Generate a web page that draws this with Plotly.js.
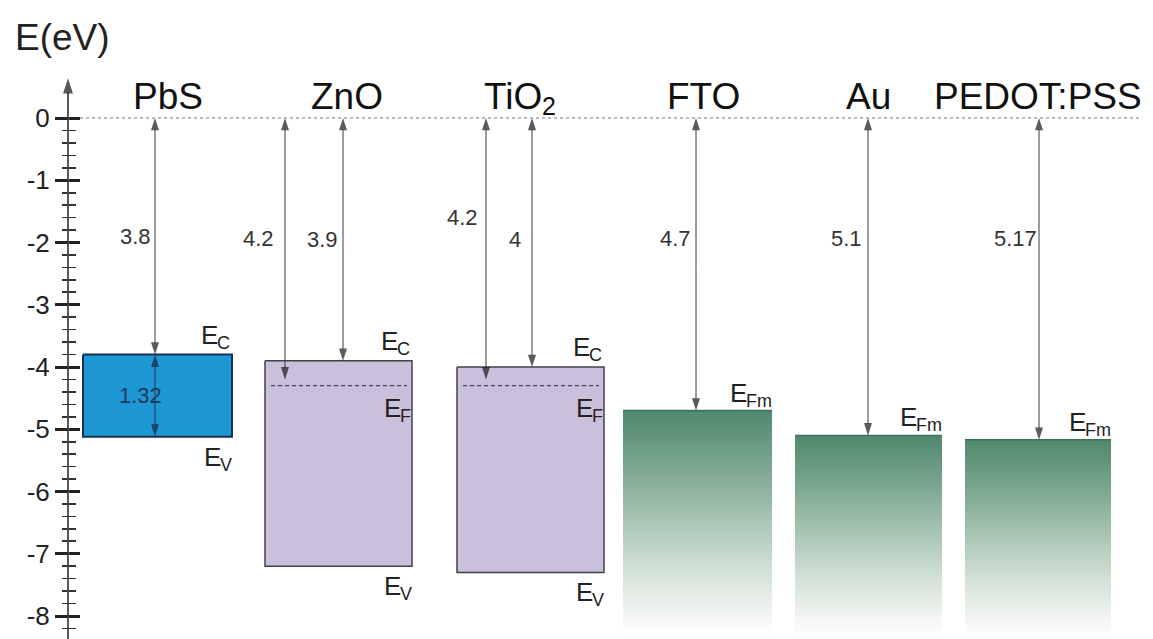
<!DOCTYPE html>
<html>
<head>
<meta charset="utf-8">
<script src="https://cdn.plot.ly/plotly-3.0.1.min.js"></script>
<style>
  html, body { margin: 0; padding: 0; background: #fff; }
  #chart { width: 1153px; height: 639px; }
</style>
</head>
<body>
<div id="chart"></div>
<script>
// ---- Energy levels (eV, vacuum level = 0) ----
// Semiconductors: name split into main text and subscript
const semiNames = ['PbS', 'ZnO', 'TiO'];
const semiNameSub = ['', '', '2'];
const conductionBand = [-3.8, -3.9, -4.0];
const valenceBand = [-5.12, -7.2, -7.3];
const fermiLevel = [null, -4.3, -4.3];
const fermiDepth = [null, 4.2, 4.2];

// Electrodes / hole conductor: Fermi level given by the work function
const metalNames = ['FTO', 'Au', 'PEDOT:PSS'];
const workFunction = [4.7, 5.1, 5.17];

// Energy axis ticks
const yTickVals = [0, -1, -2, -3, -4, -5, -6, -7, -8];
const yTickText = ['0', '-1', '-2', '-3', '-4', '-5', '-6', '-7', '-8'];

// ---- Drawing layout (horizontal positions in px of the 1153 px canvas) ----
const W = 1153, H = 639;
const PX_PER_EV = 62.25, ZERO_PX = 118;
const yTop = ZERO_PX / PX_PER_EV;
const yBottom = -(H - ZERO_PX) / PX_PER_EV;
const axisX = 68;

const semiBox = [[83, 232], [265, 412], [457, 604]];
const semiArrowX = [155, 343, 532];
const fermiArrowX = [null, 285, 486];
const semiLabelDx = [-20, -21, -17];
const fermiLabelDx = [null, -27, -24];
const fermiLabelY = [null, -1.93, -1.6];
const semiFill = ['#1d98d5', '#cbc0dc', '#cbc0dc'];
const semiLine = ['#1c2f4d', '#44404e', '#44404e'];
const semiLineW = [2, 1.5, 1.5];

const metalBox = [[623, 772], [795, 942], [965, 1111]];
const metalArrowX = [696, 868, 1039];
const metalLabelDx = [-21, -22, -24];

const headerX = [168, 347, 520, 703, 868, 1038];

const FAMILY = 'Liberation Sans, Arial, sans-serif';
const numFont = { family: FAMILY, size: 22, color: '#333' };
const levelFont = { family: FAMILY, size: 26, color: '#222' };
const levelSubFont = { family: FAMILY, size: 18, color: '#222' };
const headFont = { family: FAMILY, size: 37, color: '#111' };
const headSubFont = { family: FAMILY, size: 25, color: '#111' };

const traces = [];
const shapes = [];
const annotations = [];

// One half of an arrow: a segment from `yFrom` to `yTip` with an arrowhead at the tip
function halfArrow(x, yFrom, yTip, color, headColor, width, head) {
  traces.push({
    type: 'scatter', mode: 'lines+markers', hoverinfo: 'skip', showlegend: false,
    x: [x, x], y: [yFrom, yTip],
    line: { color: color, width: width },
    marker: { symbol: 'arrow', size: [0, head], angleref: 'previous', color: headColor, line: { width: 0 } }
  });
}
// Double-headed vertical arrow between two energies
function arrow(x, yA, yB, color, headColor) {
  const c = color || '#3a3a3a', hc = headColor || '#151515';
  const ym = (yA + yB) / 2;
  halfArrow(x, ym, yA, c, hc, 1, 13);
  halfArrow(x, ym, yB, c, hc, 1, 13);
}
function label(text, x, y, font, opts) {
  annotations.push(Object.assign({
    x: x, y: y, xref: 'x', yref: 'y', text: text, showarrow: false,
    xanchor: 'center', yanchor: 'middle', font: font
  }, opts || {}));
}
// Energy-level symbol "E" with a subscript, placed by its left edge
function levelLabel(sub, xLeft, y, yshift) {
  label('E', xLeft, y, levelFont, { xanchor: 'left', yshift: yshift });
  label(sub, xLeft + 16, y, levelSubFont, { xanchor: 'left', yshift: yshift - 8 });
}

// Semiconductor band boxes
semiNames.forEach((name, i) => {
  const [x0, x1] = semiBox[i];
  const ec = conductionBand[i], ev = valenceBand[i];
  traces.push({
    type: 'scatter', mode: 'lines', hoverinfo: 'skip', showlegend: false,
    x: [x0, x1, x1, x0, x0], y: [ec, ec, ev, ev, ec],
    fill: 'toself', fillcolor: semiFill[i],
    line: { color: semiLine[i], width: semiLineW[i] }
  });
  if (fermiLevel[i] !== null) {
    shapes.push({
      type: 'line', xref: 'x', yref: 'y', x0: x0 + 6, x1: x1 - 5,
      y0: fermiLevel[i], y1: fermiLevel[i],
      line: { color: '#4a4458', width: 1.2, dash: '4px,3px' }
    });
  }
});

semiNames.forEach((name, i) => {
  const x1 = semiBox[i][1];
  const ec = conductionBand[i], ev = valenceBand[i];
  // electron affinity arrow
  arrow(semiArrowX[i], 0, ec);
  label(String(Math.abs(ec)), semiArrowX[i] + semiLabelDx[i], i === 0 ? -1.9 : -1.95, numFont);
  levelLabel('C', x1 - 33, ec, 20);
  levelLabel('V', x1 - 30, ev, -20);
  if (fermiLevel[i] !== null) {
    arrow(fermiArrowX[i], 0, -fermiDepth[i]);
    label(String(fermiDepth[i]), fermiArrowX[i] + fermiLabelDx[i], fermiLabelY[i], numFont);
    levelLabel('F', x1 - 30, fermiLevel[i], -22);
  }
});

// PbS band gap
arrow(semiArrowX[0], conductionBand[0], valenceBand[0], '#1c3350', '#14243c');
label((conductionBand[0] - valenceBand[0]).toFixed(2), semiArrowX[0] - 15,
      (conductionBand[0] + valenceBand[0]) / 2, Object.assign({}, numFont, { color: '#1c3a5a' }));

// Metal contacts: shaded blocks fading downward
metalNames.forEach((name, i) => {
  const [x0, x1] = metalBox[i];
  const ef = -workFunction[i];
  traces.push({
    type: 'scatter', mode: 'lines', hoverinfo: 'skip', showlegend: false,
    x: [x0, x1, x1, x0, x0], y: [ef, ef, yBottom, yBottom, ef],
    fill: 'toself', line: { width: 0, color: 'rgba(0,0,0,0)' },
    fillgradient: {
      type: 'vertical', start: yBottom, stop: ef,
      colorscale: [[0, '#ffffff'], [0.1, '#f3f6f3'], [0.3, '#d2e1d6'],
                   [0.55, '#a3c1af'], [0.8, '#72a089'], [1, '#4f896d']]
    }
  });
  traces.push({
    type: 'scatter', mode: 'lines', hoverinfo: 'skip', showlegend: false,
    x: [x0, x1], y: [ef, ef], line: { color: '#3f7359', width: 1.5 }
  });
});

metalNames.forEach((name, i) => {
  const x1 = metalBox[i][1];
  const ef = -workFunction[i];
  arrow(metalArrowX[i], 0, ef);
  label(String(workFunction[i]), metalArrowX[i] + metalLabelDx[i], -1.93, numFont);
  label('E', x1 - 44, ef, levelFont, { xanchor: 'left', yshift: 18 });
  label('Fm', x1 - 28, ef, levelSubFont, { xanchor: 'left', yshift: 10 });
});

// Vacuum level
shapes.push({
  type: 'line', xref: 'x', yref: 'y', x0: 80, x1: 1140, y0: 0, y1: 0,
  line: { color: '#777', width: 1.2, dash: '3px,3px' }
});

// Material names
semiNames.forEach((name, i) => {
  if (semiNameSub[i]) {
    // main text centred a little left so that text plus subscript stays centred
    label(name, headerX[i] - 7, 0, headFont, { yshift: 22 });
    label(semiNameSub[i], headerX[i] + 29, 0, headSubFont, { yshift: 12 });
  } else {
    label(name, headerX[i], 0, headFont, { yshift: 22 });
  }
});
metalNames.forEach((name, i) => {
  label(name, headerX[semiNames.length + i], 0, headFont, { yshift: 22 });
});

// Energy axis line with arrow tip
halfArrow(axisX, yBottom, 0.64, '#222', '#111', 1.5, 16);
annotations.push({
  x: 62 / W, y: 1 - 38 / H, xref: 'paper', yref: 'paper', text: 'E(eV)', showarrow: false,
  xanchor: 'center', yanchor: 'middle',
  font: { family: FAMILY, size: 37, color: '#222' }
});

const minorVals = [];
for (let k = 1; k <= 41; k++) { if (k % 5 !== 0) minorVals.push(-k / 5); }

const baseAxis = {
  range: [yBottom, yTop], anchor: 'free', position: axisX / W, side: 'left',
  showgrid: false, zeroline: false, showline: false, fixedrange: true,
  tickmode: 'array', tickvals: yTickVals
};

const layout = {
  width: W, height: H,
  margin: { l: 0, r: 0, t: 0, b: 0 },
  paper_bgcolor: '#fff', plot_bgcolor: '#fff',
  showlegend: false,
  xaxis: { range: [0, W], visible: false, fixedrange: true },
  yaxis: Object.assign({}, baseAxis, {
    ticktext: yTickText, ticks: 'outside', ticklen: 13, tickwidth: 3, tickcolor: '#222',
    tickfont: { family: FAMILY, size: 26, color: '#222' },
    minor: { tickmode: 'array', tickvals: minorVals, ticks: 'outside', ticklen: 6, tickwidth: 1.6, tickcolor: '#333' }
  }),
  yaxis2: Object.assign({}, baseAxis, {
    overlaying: 'y', showticklabels: false,
    ticks: 'inside', ticklen: 11, tickwidth: 3, tickcolor: '#222',
    minor: { tickmode: 'array', tickvals: minorVals, ticks: 'inside', ticklen: 7, tickwidth: 1.6, tickcolor: '#333' }
  }),
  shapes: shapes,
  annotations: annotations
};

// empty trace that carries the second (inner-tick) axis
traces.push({ type: 'scatter', x: [], y: [], yaxis: 'y2', showlegend: false, hoverinfo: 'skip' });

Plotly.newPlot('chart', traces, layout, { staticPlot: true, displayModeBar: false });
</script>
</body>
</html>
